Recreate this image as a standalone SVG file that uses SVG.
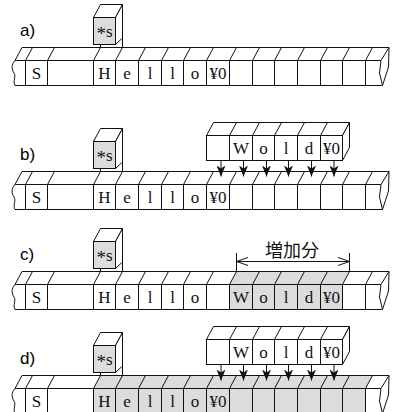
<svg xmlns="http://www.w3.org/2000/svg" xmlns:xlink="http://www.w3.org/1999/xlink" width="394" height="412" viewBox="0 0 394 412">
<style>
.ln{fill:none;stroke:#111;stroke-width:1}
.box{fill:#fff;stroke:#111;stroke-width:1}
.gbox{fill:#dcdcdc;stroke:#111;stroke-width:1}
.gray{fill:#dcdcdc;stroke:none}
.cell{font-family:"Liberation Serif","DejaVu Serif",serif;font-size:17px;text-anchor:middle;fill:#111}
.lbl{font-family:"Liberation Sans",Arial,sans-serif;font-size:17px;fill:#000}
.cjk{font-family:"Noto Sans CJK JP","Noto Sans CJK SC",sans-serif;font-size:18px;text-anchor:middle;fill:#111}
.arr{fill:none;stroke:#111;stroke-width:1;marker-end:url(#ah)}
.dim{fill:none;stroke:#111;stroke-width:1;marker-start:url(#oh);marker-end:url(#oh)}
</style>
<defs>
<marker id="ah" markerUnits="userSpaceOnUse" viewBox="0 0 11 9" refX="11" refY="4.5" markerWidth="11" markerHeight="9" orient="auto">
<path d="M0,0 L11,4.5 L0,9 L3,4.5 Z" fill="#111"/>
</marker>
<marker id="oh" markerUnits="userSpaceOnUse" viewBox="0 0 12 9" refX="11.5" refY="4.5" markerWidth="12" markerHeight="9" orient="auto-start-reverse" overflow="visible">
<path d="M0,0.5 L11.5,4.5 L0,8.5" fill="none" stroke="#111" stroke-width="1"/>
</marker>
<path id="tape-lines" class="ln" d="M22,0.5 H389 M15,13.5 H381 M15,38.5 H382.5
M25.5,13.5 V38.5 M47.5,13.5 V38.5 M93.5,13.5 V38.5 M115.5,13.5 V38.5 M138.5,13.5 V38.5 M161.5,13.5 V38.5 M183.5,13.5 V38.5 M206.5,13.5 V38.5 M229.5,13.5 V38.5 M252.5,13.5 V38.5 M274.5,13.5 V38.5 M297.5,13.5 V38.5 M320.5,13.5 V38.5 M342.5,13.5 V38.5 M365.5,13.5 V38.5
M15,13.5 L22,0.5 M25.5,13.5 L32.5,0.5 M47.5,13.5 L54.5,0.5 M93.5,13.5 L100.5,0.5 M115.5,13.5 L122.5,0.5 M138.5,13.5 L145.5,0.5 M161.5,13.5 L168.5,0.5 M183.5,13.5 L190.5,0.5 M206.5,13.5 L213.5,0.5 M229.5,13.5 L236.5,0.5 M252.5,13.5 L259.5,0.5 M274.5,13.5 L281.5,0.5 M297.5,13.5 L304.5,0.5 M320.5,13.5 L327.5,0.5 M342.5,13.5 L349.5,0.5 M365.5,13.5 L372.5,0.5
M15,13.5 C11,18 11.5,22 14,26 C16.5,30 12.5,34 15,38.5
M381,13.5 L389,0.5 L388.5,20 L382.5,38.5 L379.5,26 L381,13.5"/>
<g id="ptr">
<path class="box" d="M93.5,-29.5 L100.5,-42.5 H122.5 L115.5,-29.5 Z"/>
<path class="box" d="M115.5,-29.5 L122.5,-42.5 V-9 L115.5,-2.5 Z"/>
<rect class="gbox" x="93.5" y="-29.5" width="22" height="27"/>
<path class="ln" d="M100.5,-2.5 V0.5 M122.5,-9 V0.5"/>
<text class="cell" x="104.5" y="-10.5"><tspan font-size="19" dy="3">*</tspan><tspan dy="-3">s</tspan></text>
</g>
<g id="wbox">
<path class="box" d="M206.5,-35.5 L213.5,-48.5 H349.5 L342.5,-35.5 Z"/>
<path class="box" d="M342.5,-35.5 L349.5,-48.5 V-23.5 L342.5,-10.5 Z"/>
<rect class="box" x="206.5" y="-35.5" width="136" height="25"/>
<path class="ln" d="M229.5,-35.5 V-10.5 M252.5,-35.5 V-10.5 M274.5,-35.5 V-10.5 M297.5,-35.5 V-10.5 M320.5,-35.5 V-10.5
M229.5,-35.5 L236.5,-48.5 M252.5,-35.5 L259.5,-48.5 M274.5,-35.5 L281.5,-48.5 M297.5,-35.5 L304.5,-48.5 M320.5,-35.5 L327.5,-48.5"/>
<text class="cell" x="241" y="-17">W</text>
<text class="cell" x="263.5" y="-17">o</text>
<text class="cell" x="286" y="-17">l</text>
<text class="cell" x="309" y="-17">d</text>
<text class="cell" x="331.5" y="-17">¥0</text>
</g>
<g id="hello">
<text class="cell" x="36.5" y="32">S</text>
<text class="cell" x="104.5" y="32">H</text>
<text class="cell" x="127" y="32">e</text>
<text class="cell" x="150" y="32">l</text>
<text class="cell" x="172.5" y="32">l</text>
<text class="cell" x="195" y="32">o</text>
</g>
<g id="arrows">
<path class="arr" d="M221,-10.5 V5.5"/>
<path class="arr" d="M243.5,-10.5 V5.5"/>
<path class="arr" d="M266.5,-10.5 V5.5"/>
<path class="arr" d="M288.5,-10.5 V5.5"/>
<path class="arr" d="M311.5,-10.5 V5.5"/>
<path class="arr" d="M334,-10.5 V5.5"/>
</g>
</defs>

<g id="panel-a" transform="translate(0,47)">
<text class="lbl" x="20" y="-11.5">a)</text>
<g id="a-tape">
<use xlink:href="#tape-lines"/>
<use xlink:href="#hello"/>
<text class="cell" x="218" y="32">¥0</text>
</g>
<g id="a-pointer"><use xlink:href="#ptr"/></g>
</g>

<g id="panel-b" transform="translate(0,171)">
<text class="lbl" x="20" y="-11.5">b)</text>
<g id="b-tape">
<use xlink:href="#tape-lines"/>
<use xlink:href="#hello"/>
<text class="cell" x="218" y="32">¥0</text>
</g>
<g id="b-pointer"><use xlink:href="#ptr"/></g>
<g id="b-world"><use xlink:href="#wbox"/></g>
</g>

<g id="panel-c" transform="translate(0,271)">
<text class="lbl" x="20" y="-11.5">c)</text>
<g id="c-tape">
<path class="gray" d="M229.5,13.5 L236.5,0.5 H349.5 L342.5,13.5 V38.5 H229.5 Z"/>
<use xlink:href="#tape-lines"/>
<use xlink:href="#hello"/>
<text class="cell" x="241" y="32">W</text>
<text class="cell" x="263.5" y="32">o</text>
<text class="cell" x="286" y="32">l</text>
<text class="cell" x="309" y="32">d</text>
<text class="cell" x="331.5" y="32">¥0</text>
</g>
<g id="c-pointer"><use xlink:href="#ptr"/></g>
<g id="c-dimension-label"><text class="cjk" x="292" y="-14.5">増加分</text></g>
</g>

<g id="panel-d" transform="translate(0,375)">
<text class="lbl" x="20" y="-11.5">d)</text>
<g id="d-tape">
<path class="gray" d="M93.5,13.5 L100.5,0.5 H372.5 L365.5,13.5 V40 H93.5 Z"/>
<use xlink:href="#tape-lines"/>
<use xlink:href="#hello"/>
<text class="cell" x="218" y="32">¥0</text>
</g>
<g id="d-pointer"><use xlink:href="#ptr"/></g>
<g id="d-world"><use xlink:href="#wbox"/></g>
</g>

<g id="connectors">
<use xlink:href="#arrows" transform="translate(0,171)"/>
<use xlink:href="#arrows" transform="translate(0,375)"/>
<g transform="translate(0,271)">
<path class="ln" d="M236.5,-18 V0.5 M349.5,-18 V0.5"/>
<path class="dim" d="M236.5,-9.5 H349.5"/>
</g>
</g>
</svg>
